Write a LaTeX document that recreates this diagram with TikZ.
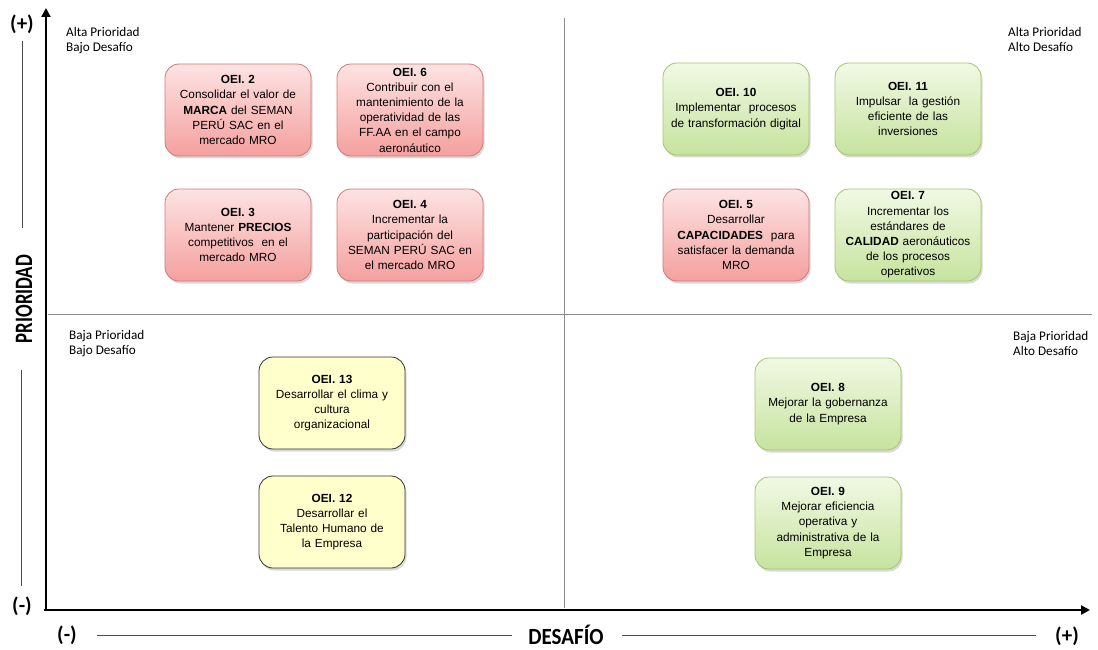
\documentclass[tikz,border=0pt]{standalone}
\usepackage{fontspec}
\setmainfont{Liberation Sans}
\newfontfamily\calfont{Carlito}
\usetikzlibrary{shadows,arrows.meta}
\definecolor{redtop}{HTML}{FDE3E3}
\definecolor{redbot}{HTML}{F4A09E}
\definecolor{redline}{HTML}{D07A78}
\definecolor{grntop}{HTML}{F1F9E4}
\definecolor{grnbot}{HTML}{C6E39E}
\definecolor{grnline}{HTML}{A6C46E}
\definecolor{yelfill}{HTML}{FFFFCC}
\begin{document}
\begin{tikzpicture}[x=1pt,y=-1pt,
  oei/.style={rounded corners=14pt, minimum width=146pt, minimum height=92pt,
    text width=144pt, align=center, inner sep=1pt,
    font=\fontsize{11.8}{15.2}\selectfont, line width=0.8pt,
    drop shadow={shadow xshift=1.5pt,shadow yshift=-2.5pt,opacity=0.3}},
  redbox/.style={oei, draw=redline, top color=redtop, bottom color=redbot},
  greenbox/.style={oei, draw=grnline, top color=grntop, bottom color=grnbot},
  yellowbox/.style={oei, draw=black!80, fill=yelfill},
  corner/.style={font=\calfont\fontsize{13.2}{15.5}\selectfont, align=left, anchor=north west, inner sep=0pt},
  axlabel/.style={font=\calfont\bfseries\fontsize{21}{24}\selectfont, inner sep=1pt},
  thinline/.style={line width=0.8pt, black!70},
  quadline/.style={line width=0.6pt, black!45},
  axis/.style={line width=2.6pt, -{Triangle[length=9pt,width=9pt]}}
]
\useasboundingbox (0,0) rectangle (1098,650);

% quadrant lines
\coordinate (vtop) at (564,18);
\coordinate (vbot) at (564,608);
\coordinate (hl) at (48,314);
\coordinate (hr) at (1092,314);
\draw[quadline] (vtop) -- (vbot);
\draw[quadline] (hl) -- (hr);

% axes
\coordinate (o) at (46,611);
\coordinate (ytop) at (46,8);
\coordinate (xend) at (1090,610);
\coordinate (xstart) at (44,610);
\draw[axis] (o) -- (ytop);
\draw[axis] (xstart) -- (xend);

% vertical axis labels
\node[axlabel] (yplus) at (22,24) {(+)};
\node[axlabel] (yminus) at (22,606) {(-)};
\node[axlabel, font=\calfont\bfseries\fontsize{25}{28}\selectfont, rotate=90] (prio) at (24,299) {\scalebox{0.75}[1]{PRIORIDAD}};
\coordinate (yl1a) at (22,41);
\coordinate (yl1b) at (22,228);
\coordinate (yl2a) at (21,370);
\coordinate (yl2b) at (21,586);
\draw[thinline] (yl1a) -- (yl1b);
\draw[thinline] (yl2a) -- (yl2b);

% horizontal axis labels
\node[axlabel] (xminus) at (67,635) {(-)};
\node[axlabel] (xplus) at (1067,636) {(+)};
\node[axlabel] (desafio) at (566,635) {\scalebox{1}[1.1]{DESAFÍO}};
\coordinate (xl1a) at (97,635);
\coordinate (xl1b) at (512,635);
\coordinate (xl2a) at (622,635);
\coordinate (xl2b) at (1036,635);
\draw[thinline] (xl1a) -- (xl1b);
\draw[thinline] (xl2a) -- (xl2b);

% corner labels
\node[corner] (q1) at (66,27) {Alta Prioridad\\Bajo Desafío};
\node[corner] (q2) at (1008,27) {Alta Prioridad\\Alto Desafío};
\node[corner] (q3) at (69,330) {Baja Prioridad\\Bajo Desafío};
\node[corner] (q4) at (1013,331) {Baja Prioridad\\Alto Desafío};

% boxes
\node[redbox] (oei2) at (238,110) {\textbf{OEI. 2}\\Consolidar el valor de\\\textbf{MARCA} del SEMAN\\PERÚ SAC en el\\mercado MRO};
\node[redbox] (oei6) at (410,110) {\textbf{OEI. 6}\\Contribuir con el\\mantenimiento de la\\operatividad de las\\FF.AA en el campo\\aeronáutico};
\node[redbox] (oei3) at (238,235) {\textbf{OEI. 3}\\Mantener \textbf{PRECIOS}\\competitivos \ en el\\mercado MRO};
\node[redbox] (oei4) at (410,235) {\textbf{OEI. 4}\\Incrementar la\\participación del\\SEMAN PERÚ SAC en\\el mercado MRO};
\node[greenbox] (oei10) at (736,109) {\textbf{OEI. 10}\\Implementar \ procesos\\de transformación digital};
\node[greenbox] (oei11) at (908,109) {\textbf{OEI. 11}\\Impulsar \ la gestión\\eficiente de las\\inversiones};
\node[redbox] (oei5) at (736,235) {\textbf{OEI. 5}\\Desarrollar\\\textbf{CAPACIDADES} \ para\\satisfacer la demanda\\MRO};
\node[greenbox] (oei7) at (908,235) {\textbf{OEI. 7}\\Incrementar los\\estándares de\\\textbf{CALIDAD} aeronáuticos\\de los procesos\\operativos};
\node[yellowbox] (oei13) at (332,403) {\textbf{OEI. 13}\\Desarrollar el clima y\\cultura\\organizacional};
\node[yellowbox] (oei12) at (332,522) {\textbf{OEI. 12}\\Desarrollar el\\Talento Humano de\\la Empresa};
\node[greenbox] (oei8) at (828,404) {\textbf{OEI. 8}\\Mejorar la gobernanza\\de la Empresa};
\node[greenbox] (oei9) at (828,523) {\textbf{OEI. 9}\\Mejorar eficiencia\\operativa y\\administrativa de la\\Empresa};
\end{tikzpicture}
\end{document}
